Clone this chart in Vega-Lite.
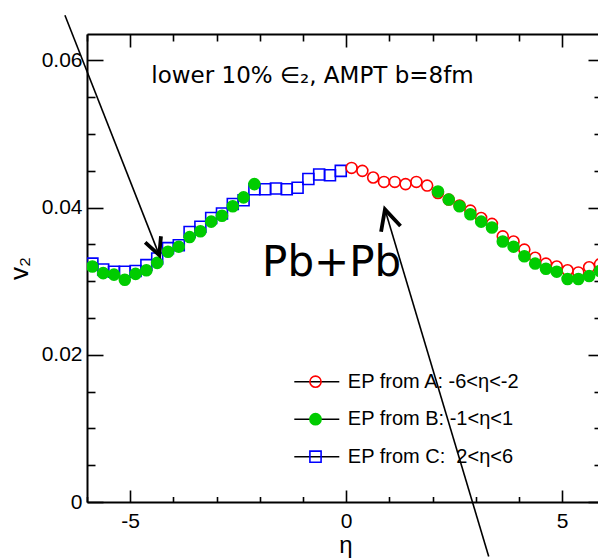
{
  "$schema": "https://vega.github.io/schema/vega-lite/v6.json",
  "width": 511,
  "height": 468,
  "autosize": {"type": "none"},
  "padding": {"left": 87, "top": 34, "right": 0, "bottom": 58},
  "background": "white",
  "config": {
    "view": {"stroke": null},
    "axis": {
      "grid": false,
      "domainColor": "black",
      "domainWidth": 2,
      "tickColor": "black",
      "tickWidth": 1.6,
      "labelFont": "Liberation Sans",
      "labelFontSize": 21,
      "labelColor": "black",
      "titleColor": "black",
      "titleFontWeight": "normal",
      "labelOverlap": false,
      "labelBound": false,
      "labelFlush": false
    }
  },
  "datasets": {
    "v2": [
      {"series": "EP from C:  2<η<6", "eta": -5.875, "v2": 0.0324},
      {"series": "EP from C:  2<η<6", "eta": -5.625, "v2": 0.0316},
      {"series": "EP from C:  2<η<6", "eta": -5.375, "v2": 0.0313},
      {"series": "EP from C:  2<η<6", "eta": -5.125, "v2": 0.0313},
      {"series": "EP from C:  2<η<6", "eta": -4.875, "v2": 0.0314},
      {"series": "EP from C:  2<η<6", "eta": -4.625, "v2": 0.0322},
      {"series": "EP from C:  2<η<6", "eta": -4.375, "v2": 0.0331},
      {"series": "EP from C:  2<η<6", "eta": -4.125, "v2": 0.0345},
      {"series": "EP from C:  2<η<6", "eta": -3.875, "v2": 0.0349},
      {"series": "EP from C:  2<η<6", "eta": -3.625, "v2": 0.0367},
      {"series": "EP from C:  2<η<6", "eta": -3.375, "v2": 0.0374},
      {"series": "EP from C:  2<η<6", "eta": -3.125, "v2": 0.0386},
      {"series": "EP from C:  2<η<6", "eta": -2.875, "v2": 0.0392},
      {"series": "EP from C:  2<η<6", "eta": -2.625, "v2": 0.0405},
      {"series": "EP from C:  2<η<6", "eta": -2.375, "v2": 0.041},
      {"series": "EP from C:  2<η<6", "eta": -2.125, "v2": 0.0425},
      {"series": "EP from C:  2<η<6", "eta": -1.875, "v2": 0.0425},
      {"series": "EP from C:  2<η<6", "eta": -1.625, "v2": 0.0426},
      {"series": "EP from C:  2<η<6", "eta": -1.375, "v2": 0.0425},
      {"series": "EP from C:  2<η<6", "eta": -1.125, "v2": 0.0427},
      {"series": "EP from C:  2<η<6", "eta": -0.875, "v2": 0.0439},
      {"series": "EP from C:  2<η<6", "eta": -0.625, "v2": 0.0445},
      {"series": "EP from C:  2<η<6", "eta": -0.375, "v2": 0.0444},
      {"series": "EP from C:  2<η<6", "eta": -0.125, "v2": 0.045},
      {"series": "EP from A: -6<η<-2", "eta": 0.125, "v2": 0.0454},
      {"series": "EP from A: -6<η<-2", "eta": 0.375, "v2": 0.045},
      {"series": "EP from A: -6<η<-2", "eta": 0.625, "v2": 0.0441},
      {"series": "EP from A: -6<η<-2", "eta": 0.875, "v2": 0.0435},
      {"series": "EP from A: -6<η<-2", "eta": 1.125, "v2": 0.0435},
      {"series": "EP from A: -6<η<-2", "eta": 1.375, "v2": 0.0432},
      {"series": "EP from A: -6<η<-2", "eta": 1.625, "v2": 0.0435},
      {"series": "EP from A: -6<η<-2", "eta": 1.875, "v2": 0.043},
      {"series": "EP from A: -6<η<-2", "eta": 2.125, "v2": 0.042},
      {"series": "EP from A: -6<η<-2", "eta": 2.375, "v2": 0.0411},
      {"series": "EP from A: -6<η<-2", "eta": 2.625, "v2": 0.0403},
      {"series": "EP from A: -6<η<-2", "eta": 2.875, "v2": 0.0396},
      {"series": "EP from A: -6<η<-2", "eta": 3.125, "v2": 0.0386},
      {"series": "EP from A: -6<η<-2", "eta": 3.375, "v2": 0.0378},
      {"series": "EP from A: -6<η<-2", "eta": 3.625, "v2": 0.0361},
      {"series": "EP from A: -6<η<-2", "eta": 3.875, "v2": 0.0354},
      {"series": "EP from A: -6<η<-2", "eta": 4.125, "v2": 0.0343},
      {"series": "EP from A: -6<η<-2", "eta": 4.375, "v2": 0.0332},
      {"series": "EP from A: -6<η<-2", "eta": 4.625, "v2": 0.0324},
      {"series": "EP from A: -6<η<-2", "eta": 4.875, "v2": 0.032},
      {"series": "EP from A: -6<η<-2", "eta": 5.125, "v2": 0.0315},
      {"series": "EP from A: -6<η<-2", "eta": 5.375, "v2": 0.0312},
      {"series": "EP from A: -6<η<-2", "eta": 5.625, "v2": 0.0319},
      {"series": "EP from A: -6<η<-2", "eta": 5.875, "v2": 0.0323},
      {"series": "EP from B: -1<η<1", "eta": -5.875, "v2": 0.032},
      {"series": "EP from B: -1<η<1", "eta": -5.625, "v2": 0.0311},
      {"series": "EP from B: -1<η<1", "eta": -5.375, "v2": 0.0309},
      {"series": "EP from B: -1<η<1", "eta": -5.125, "v2": 0.0302},
      {"series": "EP from B: -1<η<1", "eta": -4.875, "v2": 0.031},
      {"series": "EP from B: -1<η<1", "eta": -4.625, "v2": 0.0315},
      {"series": "EP from B: -1<η<1", "eta": -4.375, "v2": 0.0325},
      {"series": "EP from B: -1<η<1", "eta": -4.125, "v2": 0.034},
      {"series": "EP from B: -1<η<1", "eta": -3.875, "v2": 0.0347},
      {"series": "EP from B: -1<η<1", "eta": -3.625, "v2": 0.036},
      {"series": "EP from B: -1<η<1", "eta": -3.375, "v2": 0.0368},
      {"series": "EP from B: -1<η<1", "eta": -3.125, "v2": 0.0381},
      {"series": "EP from B: -1<η<1", "eta": -2.875, "v2": 0.0389},
      {"series": "EP from B: -1<η<1", "eta": -2.625, "v2": 0.0402},
      {"series": "EP from B: -1<η<1", "eta": -2.375, "v2": 0.0414},
      {"series": "EP from B: -1<η<1", "eta": -2.125, "v2": 0.0432},
      {"series": "EP from B: -1<η<1", "eta": 2.125, "v2": 0.0422},
      {"series": "EP from B: -1<η<1", "eta": 2.375, "v2": 0.0411},
      {"series": "EP from B: -1<η<1", "eta": 2.625, "v2": 0.0402},
      {"series": "EP from B: -1<η<1", "eta": 2.875, "v2": 0.0391},
      {"series": "EP from B: -1<η<1", "eta": 3.125, "v2": 0.0381},
      {"series": "EP from B: -1<η<1", "eta": 3.375, "v2": 0.0373},
      {"series": "EP from B: -1<η<1", "eta": 3.625, "v2": 0.0354},
      {"series": "EP from B: -1<η<1", "eta": 3.875, "v2": 0.0347},
      {"series": "EP from B: -1<η<1", "eta": 4.125, "v2": 0.0334},
      {"series": "EP from B: -1<η<1", "eta": 4.375, "v2": 0.0324},
      {"series": "EP from B: -1<η<1", "eta": 4.625, "v2": 0.0317},
      {"series": "EP from B: -1<η<1", "eta": 4.875, "v2": 0.0313},
      {"series": "EP from B: -1<η<1", "eta": 5.125, "v2": 0.0303},
      {"series": "EP from B: -1<η<1", "eta": 5.375, "v2": 0.0303},
      {"series": "EP from B: -1<η<1", "eta": 5.625, "v2": 0.0307},
      {"series": "EP from B: -1<η<1", "eta": 5.875, "v2": 0.0314}
    ]
  },
  "layer": [
    {
      "data": {"name": "v2"},
      "mark": {"type": "rule", "strokeWidth": 1.5},
      "encoding": {
        "x": {
          "field": "eta", "type": "quantitative",
          "scale": {"domain": [-6, 5.83], "nice": false, "zero": false},
          "axis": {
            "orient": "bottom",
            "values": [-6, -5, -4, -3, -2, -1, 0, 1, 2, 3, 4, 5],
            "labelExpr": "indexof([-5, 0, 5], datum.value) >= 0 ? '' + datum.value : ''",
            "tickSize": {"condition": {"test": "indexof([-5, 0, 5], datum.value) >= 0", "value": -12}, "value": -5.5},
            "labelPadding": 20,
            "labelBaseline": "top",
            "title": "η",
            "titleFont": "Liberation Sans",
            "titleFontSize": 24,
            "titleX": 258.5,
            "titleY": 50,
            "titleAlign": "center",
            "titleBaseline": "alphabetic"
          }
        },
        "y": {
          "field": "v2", "type": "quantitative",
          "scale": {"domain": [0, 0.0636], "nice": false, "zero": false},
          "axis": {
            "orient": "left",
            "values": [0, 0.005, 0.01, 0.015, 0.02, 0.025, 0.03, 0.035, 0.04, 0.045, 0.05, 0.055, 0.06],
            "labelExpr": "indexof([0, 0.02, 0.04, 0.06], datum.value) >= 0 ? '' + datum.value : ''",
            "tickSize": {"condition": {"test": "indexof([0, 0.02, 0.04, 0.06], datum.value) >= 0", "value": -16}, "value": -8},
            "labelPadding": 21,
            "title": "v₂",
            "titleFont": "Liberation Sans",
            "titleFontSize": 26,
            "titleAngle": 270,
            "titleX": -60,
            "titleY": 234,
            "titleAlign": "center",
            "titleBaseline": "alphabetic"
          }
        },
        "x2": {"field": "eta"},
        "y2": {"field": "v2"},
        "stroke": {
          "field": "series", "type": "nominal",
          "scale": {"domain": ["EP from A: -6<η<-2", "EP from B: -1<η<1", "EP from C:  2<η<6"], "range": ["black", "black", "black"]},
          "legend": {
            "orient": "none", "legendX": 206.3, "legendY": 336.7, "title": null,
            "labelFont": "Liberation Sans", "labelFontSize": 20, "labelColor": "black", "labelLimit": 400,
            "labelExpr": "replace(datum.label, 'C:  ', 'C:\u00a0\u00a0')",
            "symbolType": "stroke", "symbolSize": 2025, "symbolStrokeWidth": 1.5, "symbolStrokeColor": "black",
            "clipHeight": 22, "rowPadding": 15.5, "padding": 0, "labelOffset": 7.5
          }
        }
      }
    },
    {
      "data": {"name": "v2"},
      "mark": {"type": "point", "filled": false, "size": 120, "strokeWidth": 1.6, "opacity": 1, "clip": true},
      "encoding": {
        "x": {
          "field": "eta", "type": "quantitative",
          "scale": {"domain": [-6, 5.83], "nice": false, "zero": false},
          "axis": {
            "orient": "top",
            "values": [-6, -5, -4, -3, -2, -1, 0, 1, 2, 3, 4, 5],
            "labels": false,
            "title": null,
            "tickSize": {"condition": {"test": "indexof([-5, 0, 5], datum.value) >= 0", "value": -13}, "value": -7}
          }
        },
        "y": {
          "field": "v2", "type": "quantitative",
          "scale": {"domain": [0, 0.0636], "nice": false, "zero": false},
          "axis": {
            "orient": "right",
            "values": [0, 0.005, 0.01, 0.015, 0.02, 0.025, 0.03, 0.035, 0.04, 0.045, 0.05, 0.055, 0.06],
            "labels": false,
            "title": null,
            "domain": false,
            "tickSize": {"condition": {"test": "indexof([0, 0.02, 0.04, 0.06], datum.value) >= 0", "value": -10}, "value": -4}
          }
        },
        "stroke": {
          "field": "series", "type": "nominal",
          "scale": {"domain": ["EP from A: -6<η<-2", "EP from B: -1<η<1", "EP from C:  2<η<6"], "range": ["#ff0000", "#00cc00", "#0000ff"]},
          "legend": {
            "orient": "none", "legendX": 218.0, "legendY": 336.7, "title": null,
            "labelFontSize": 21, "labelExpr": "''",
            "symbolSize": 125, "symbolStrokeWidth": 1.6, "symbolFillColor": "white",
            "clipHeight": 22, "rowPadding": 15.5, "padding": 0, "labelOffset": 0
          }
        },
        "fill": {
          "field": "series", "type": "nominal",
          "scale": {"domain": ["EP from A: -6<η<-2", "EP from B: -1<η<1", "EP from C:  2<η<6"], "range": ["transparent", "#00cc00", "transparent"]}
        },
        "shape": {
          "field": "series", "type": "nominal",
          "scale": {"domain": ["EP from A: -6<η<-2", "EP from B: -1<η<1", "EP from C:  2<η<6"], "range": ["circle", "circle", "square"]}
        }
      }
    },
    {
      "data": {"values": [{}]},
      "mark": {"type": "text", "text": "lower 10% ∈₂, AMPT b=8fm", "font": "DejaVu Sans", "fontSize": 23, "align": "center", "baseline": "alphabetic", "color": "black"},
      "encoding": {
        "x": {"datum": -0.78, "type": "quantitative", "axis": null},
        "y": {"datum": 0.0569, "type": "quantitative", "axis": null}
      }
    },
    {
      "data": {"values": [{}]},
      "mark": {"type": "text", "text": "Pb+Pb", "font": "DejaVu Sans", "fontSize": 42, "align": "center", "baseline": "alphabetic", "color": "black"},
      "encoding": {
        "x": {"datum": -0.336, "type": "quantitative", "axis": null},
        "y": {"datum": 0.0307, "type": "quantitative", "axis": null}
      }
    },
    {
      "data": {"values": [{}]},
      "mark": {"type": "rule", "strokeWidth": 1.6, "color": "black"},
      "encoding": {
        "x": {"datum": -6.511, "type": "quantitative", "axis": null},
        "y": {"datum": 0.06615, "type": "quantitative", "axis": null},
        "x2": {"datum": -4.327},
        "y2": {"datum": 0.03355}
      }
    },
    {
      "data": {"values": [{}]},
      "mark": {"type": "point", "shape": "M-0.5,1L0,0L0.5,1", "filled": false, "size": 1150, "strokeWidth": 3.8, "color": "black", "opacity": 1, "angle": 158.6},
      "encoding": {
        "x": {"datum": -4.327, "type": "quantitative", "axis": null},
        "y": {"datum": 0.03355, "type": "quantitative", "axis": null}
      }
    },
    {
      "data": {"values": [{}]},
      "mark": {"type": "rule", "strokeWidth": 1.6, "color": "black"},
      "encoding": {
        "x": {"datum": 3.3, "type": "quantitative", "axis": null},
        "y": {"datum": -0.0074, "type": "quantitative", "axis": null},
        "x2": {"datum": 0.898},
        "y2": {"datum": 0.03976}
      }
    },
    {
      "data": {"values": [{}]},
      "mark": {"type": "point", "shape": "M-0.5,1L0,0L0.5,1", "filled": false, "size": 1650, "strokeWidth": 3.8, "color": "black", "opacity": 1, "angle": 343.3},
      "encoding": {
        "x": {"datum": 0.898, "type": "quantitative", "axis": null},
        "y": {"datum": 0.03976, "type": "quantitative", "axis": null}
      }
    }
  ],
  "resolve": {
    "scale": {"stroke": "independent", "fill": "independent", "shape": "independent"},
    "legend": {"stroke": "independent", "fill": "independent", "shape": "independent"},
    "axis": {"x": "independent", "y": "independent"}
  }
}
